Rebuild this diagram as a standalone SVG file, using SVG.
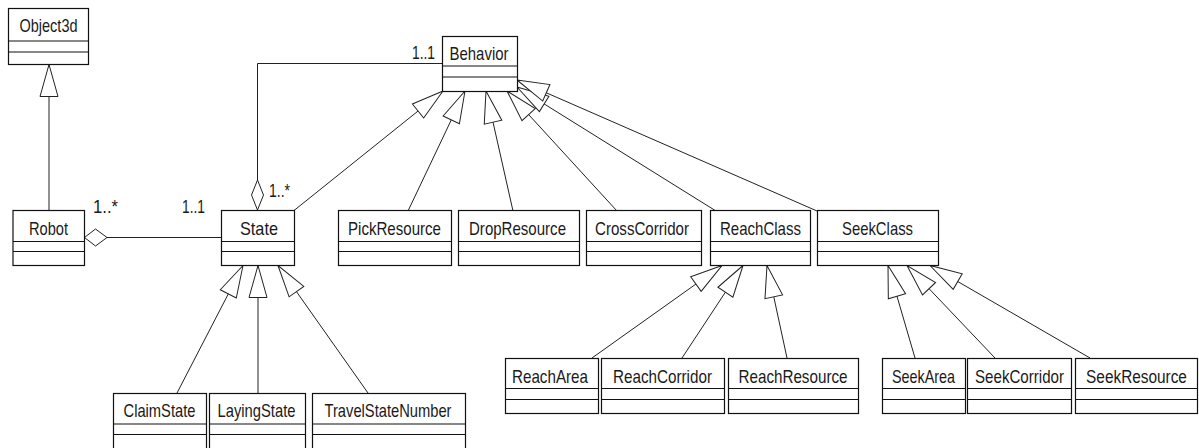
<svg xmlns="http://www.w3.org/2000/svg" width="1199" height="448" viewBox="0 0 1199 448">
<style>
.box{fill:#fff;stroke:#111;stroke-width:1.2}
.div{stroke:#111;stroke-width:1.2}
.t{font-family:"Liberation Sans",Arial,sans-serif;font-size:19px;fill:#1a1a1a;text-anchor:middle}
.m{font-family:"Liberation Sans",Arial,sans-serif;font-size:19px;fill:#1a1a1a}
.ln{fill:none;stroke:#222;stroke-width:1}
.gen{marker-end:url(#tri)}
.agg{fill:#fff;stroke:#222;stroke-width:1}
</style>
<defs>
<marker id="tri" markerUnits="userSpaceOnUse" markerWidth="34" markerHeight="20" refX="32" refY="9" orient="auto" overflow="visible">
<path d="M32,9 L0,0 L0,18 Z" fill="#fff" stroke="#222" stroke-width="1"/>
</marker>
</defs>
<rect width="1199" height="448" fill="#fff"/>

<g id="connectors">
<path class="ln gen" d="M49,210 L49,64.5"/>
<path class="ln gen" d="M294,210.5 L443,91"/>
<path class="ln gen" d="M408,211 L465,91"/>
<path class="ln gen" d="M513,211 L486,91"/>
<path class="ln gen" d="M617,211 L507,91"/>
<path class="ln gen" d="M716,211 L517,87"/>
<path class="ln gen" d="M817,211 L517,80"/>
<path class="ln gen" d="M177,393 L243,265.5"/>
<path class="ln gen" d="M258,393 L258,265.5"/>
<path class="ln gen" d="M368,393 L278,265.5"/>
<path class="ln gen" d="M592,358 L722,265.5"/>
<path class="ln gen" d="M682,358 L743,265.5"/>
<path class="ln gen" d="M787,358 L767,265.5"/>
<path class="ln gen" d="M915,358 L888,265.5"/>
<path class="ln gen" d="M995,358 L907,265.5"/>
<path class="ln gen" d="M1090,358 L930,265.5"/>
<path class="ln" d="M107,237.5 L221,237.5"/>
<path class="ln" d="M257.5,180 L257.5,63.5 L442,63.5"/>
<polygon class="agg" points="84.5,237.5 95.5,229 107,237.5 95.5,246"/>
<polygon class="agg" points="257.5,210 251.5,195 257.5,180 263.5,195"/>
<text class="m" x="93" y="213" textLength="25" lengthAdjust="spacingAndGlyphs">1..*</text>
<text class="m" x="182" y="213" textLength="23" lengthAdjust="spacingAndGlyphs">1..1</text>
<text class="m" x="269" y="197" textLength="21" lengthAdjust="spacingAndGlyphs">1..*</text>
<text class="m" x="412" y="59" textLength="23" lengthAdjust="spacingAndGlyphs">1..1</text>
</g>

<g id="Object3d"><rect class="box" x="8.5" y="8.5" width="80" height="56"/><path class="div" d="M8.5,41 H88.5 M8.5,52 H88.5"/><text class="t" x="48.5" y="32" textLength="58" lengthAdjust="spacingAndGlyphs">Object3d</text></g>
<g id="Behavior"><rect class="box" x="442.5" y="36.5" width="75" height="55"/><path class="div" d="M442.5,66 H517.5 M442.5,77 H517.5"/><text class="t" x="479" y="60" textLength="59" lengthAdjust="spacingAndGlyphs">Behavior</text></g>
<g id="Robot"><rect class="box" x="13" y="210.5" width="71.5" height="55"/><path class="div" d="M13,241.5 H84.5 M13,251.5 H84.5"/><text class="t" x="48.5" y="234.5" textLength="39" lengthAdjust="spacingAndGlyphs">Robot</text></g>
<g id="State"><rect class="box" x="221.5" y="210.5" width="73" height="55"/><path class="div" d="M221.5,241.5 H294.5 M221.5,251.5 H294.5"/><text class="t" x="259" y="234.5" textLength="38" lengthAdjust="spacingAndGlyphs">State</text></g>
<g id="PickResource"><rect class="box" x="338.5" y="210.5" width="113" height="55"/><path class="div" d="M338.5,241.5 H451.5 M338.5,251.5 H451.5"/><text class="t" x="394.5" y="234.5" textLength="93" lengthAdjust="spacingAndGlyphs">PickResource</text></g>
<g id="DropResource"><rect class="box" x="458.5" y="210.5" width="121" height="55"/><path class="div" d="M458.5,241.5 H579.5 M458.5,251.5 H579.5"/><text class="t" x="517.5" y="234.5" textLength="97" lengthAdjust="spacingAndGlyphs">DropResource</text></g>
<g id="CrossCorridor"><rect class="box" x="586.5" y="210.5" width="115" height="55"/><path class="div" d="M586.5,241.5 H701.5 M586.5,251.5 H701.5"/><text class="t" x="642" y="234.5" textLength="94" lengthAdjust="spacingAndGlyphs">CrossCorridor</text></g>
<g id="ReachClass"><rect class="box" x="710.5" y="210.5" width="100" height="55"/><path class="div" d="M710.5,241.5 H810.5 M710.5,251.5 H810.5"/><text class="t" x="760.5" y="234.5" textLength="81" lengthAdjust="spacingAndGlyphs">ReachClass</text></g>
<g id="SeekClass"><rect class="box" x="817.5" y="210.5" width="121" height="55"/><path class="div" d="M817.5,241.5 H938.5 M817.5,251.5 H938.5"/><text class="t" x="877.5" y="234.5" textLength="71" lengthAdjust="spacingAndGlyphs">SeekClass</text></g>
<g id="ClaimState"><rect class="box" x="113.5" y="393.5" width="93" height="60"/><path class="div" d="M113.5,424 H206.5 M113.5,434.5 H206.5"/><text class="t" x="159.5" y="417" textLength="72" lengthAdjust="spacingAndGlyphs">ClaimState</text></g>
<g id="LayingState"><rect class="box" x="209.5" y="393.5" width="96" height="60"/><path class="div" d="M209.5,424 H305.5 M209.5,434.5 H305.5"/><text class="t" x="256.5" y="417" textLength="78" lengthAdjust="spacingAndGlyphs">LayingState</text></g>
<g id="TravelStateNumber"><rect class="box" x="312.5" y="393.5" width="153" height="60"/><path class="div" d="M312.5,424 H465.5 M312.5,434.5 H465.5"/><text class="t" x="388" y="417" textLength="127" lengthAdjust="spacingAndGlyphs">TravelStateNumber</text></g>
<g id="ReachArea"><rect class="box" x="505.5" y="358.5" width="93" height="55"/><path class="div" d="M505.5,388.5 H598.5 M505.5,399.5 H598.5"/><text class="t" x="550" y="383" textLength="76" lengthAdjust="spacingAndGlyphs">ReachArea</text></g>
<g id="ReachCorridor"><rect class="box" x="601.5" y="358.5" width="123" height="55"/><path class="div" d="M601.5,388.5 H724.5 M601.5,399.5 H724.5"/><text class="t" x="662.5" y="383" textLength="99" lengthAdjust="spacingAndGlyphs">ReachCorridor</text></g>
<g id="ReachResource"><rect class="box" x="728.5" y="358.5" width="130" height="55"/><path class="div" d="M728.5,388.5 H858.5 M728.5,399.5 H858.5"/><text class="t" x="793" y="383" textLength="109" lengthAdjust="spacingAndGlyphs">ReachResource</text></g>
<g id="SeekArea"><rect class="box" x="882.5" y="358.5" width="83" height="55"/><path class="div" d="M882.5,388.5 H965.5 M882.5,399.5 H965.5"/><text class="t" x="923.5" y="383" textLength="63" lengthAdjust="spacingAndGlyphs">SeekArea</text></g>
<g id="SeekCorridor"><rect class="box" x="967.5" y="358.5" width="104" height="55"/><path class="div" d="M967.5,388.5 H1071.5 M967.5,399.5 H1071.5"/><text class="t" x="1019.5" y="383" textLength="89" lengthAdjust="spacingAndGlyphs">SeekCorridor</text></g>
<g id="SeekResource"><rect class="box" x="1075.5" y="358.5" width="122" height="55"/><path class="div" d="M1075.5,388.5 H1197.5 M1075.5,399.5 H1197.5"/><text class="t" transform="translate(1136.5,383) scale(0.81,1)" x="0" y="0">SeekResource</text></g>
</svg>
